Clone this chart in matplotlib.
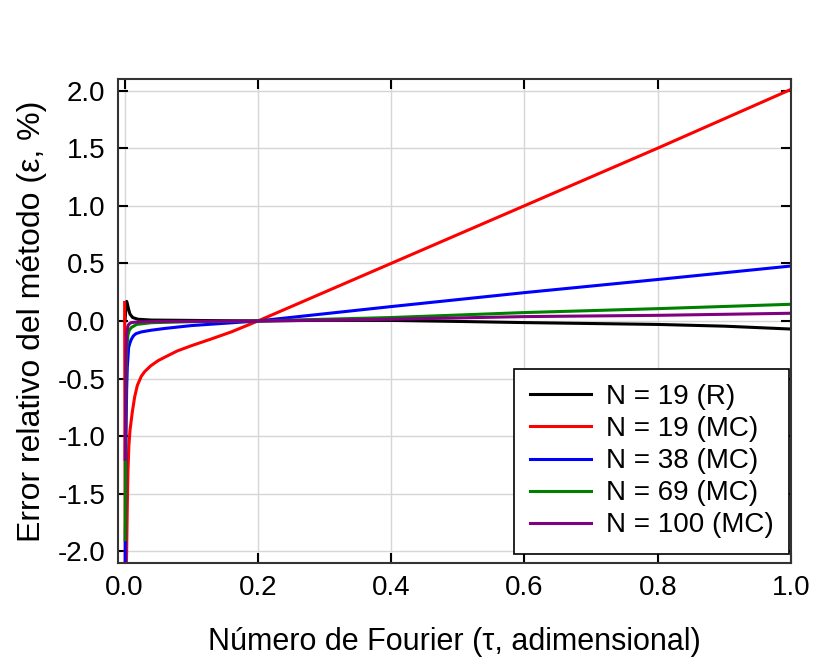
import matplotlib
matplotlib.use("Agg")
from matplotlib import pyplot as plt

plt.rcParams['font.family'] = ['Liberation Sans', 'DejaVu Sans']
plt.rcParams['axes.unicode_minus'] = False

# Fourier number (tau) and relative error (%)
tau_r19 = [0.0005, 0.002, 0.003, 0.004, 0.006, 0.008, 0.012, 0.02, 0.04, 0.1, 0.2,
           0.3, 0.4, 0.5, 0.6, 0.7, 0.8, 0.9, 1.0]
err_r19 = [0.0, 0.12, 0.17, 0.15, 0.1, 0.06, 0.03, 0.015, 0.008, 0.005, 0.0,
           0.006, 0.005, -0.004, -0.014, -0.022, -0.03, -0.045, -0.07]

tau_mc19 = [0.0, 0.001, 0.003, 0.004, 0.005, 0.0064, 0.008, 0.0115, 0.015, 0.019,
            0.025, 0.03, 0.039, 0.05, 0.06, 0.079, 0.1, 0.128, 0.16, 0.2,
            0.4, 0.6, 0.8, 1.0]
err_mc19 = [0.16, -2.5, -2.0, -1.6, -1.3, -1.08, -0.95, -0.79, -0.66, -0.56,
            -0.48, -0.44, -0.39, -0.345, -0.315, -0.26, -0.215, -0.16, -0.095, 0.0,
            0.5, 1.0, 1.5, 2.01]

tau_mc38 = [0.0008, 0.002, 0.003, 0.004, 0.006, 0.008, 0.01, 0.013, 0.017, 0.025,
            0.04, 0.06, 0.1, 0.15, 0.2, 0.4, 0.6, 0.8, 1.0]
err_mc38 = [-2.3, -1.0, -0.6, -0.4, -0.23, -0.19, -0.16, -0.13, -0.11, -0.095,
            -0.08, -0.065, -0.04, -0.02, 0.0, 0.125, 0.246, 0.36, 0.477]

tau_mc69 = [0.0008, 0.002, 0.003, 0.005, 0.007, 0.01, 0.018, 0.04, 0.1, 0.2,
            0.4, 0.6, 0.8, 1.0]
err_mc69 = [-1.9, -0.5, -0.25, -0.12, -0.08, -0.057, -0.03, -0.015, -0.006, 0.0,
            0.03, 0.073, 0.107, 0.145]

tau_mc100 = [0.0008, 0.002, 0.003, 0.005, 0.007, 0.01, 0.02, 0.05, 0.2,
             0.4, 0.6, 0.8, 1.0]
err_mc100 = [-1.2, -0.3, -0.1, -0.04, -0.025, -0.014, -0.008, -0.004, 0.0,
             0.015, 0.038, 0.049, 0.067]

labels = ['N = 19 (R)', 'N = 19 (MC)', 'N = 38 (MC)', 'N = 69 (MC)', 'N = 100 (MC)']
colors = ['black', 'red', 'blue', 'green', 'purple']

fig = plt.figure(figsize=(8.21, 6.66), dpi=100)
ax = fig.add_axes([0.1437, 0.1547, 0.8198, 0.7267])

series = [(tau_r19, err_r19), (tau_mc19, err_mc19), (tau_mc38, err_mc38),
          (tau_mc69, err_mc69), (tau_mc100, err_mc100)]
for (t, e), lab, c in zip(series, labels, colors):
    ax.plot(t, e, color=c, lw=2.2, label=lab)

ax.set_xlim(-0.01, 1.0)
ax.set_ylim(-2.1, 2.1)
ax.set_xticks([0.0, 0.2, 0.4, 0.6, 0.8, 1.0])
ax.set_yticks([-2.0, -1.5, -1.0, -0.5, 0.0, 0.5, 1.0, 1.5, 2.0])
ax.xaxis.set_major_formatter(matplotlib.ticker.FormatStrFormatter('%.1f'))
ax.yaxis.set_major_formatter(matplotlib.ticker.FormatStrFormatter('%.1f'))
ax.grid(True, color='#d6d6d6', lw=1)
ax.set_axisbelow(True)
ax.tick_params(direction='in', top=True, right=True, length=7, width=1.5,
               labelsize=20, pad=9)
for s in ax.spines.values():
    s.set_linewidth(1.5)
    s.set_color('#333333')

ax.set_xlabel('Número de Fourier (τ, adimensional)', fontsize=22)
ax.set_ylabel('Error relativo del método (ε, %)', fontsize=23)
ax.xaxis.set_label_coords(0.5, -0.132)
ax.yaxis.set_label_coords(-0.106, 0.5)

leg = ax.legend(loc='lower right', bbox_to_anchor=(0.997, 0.019), borderaxespad=0,
                fontsize=20, fancybox=False, framealpha=1, edgecolor='black',
                handlelength=2.2, handletextpad=0.55, labelspacing=0.22, borderpad=0.55)
leg.get_frame().set_linewidth(1.2)

fig.savefig('out.png', dpi=100)
